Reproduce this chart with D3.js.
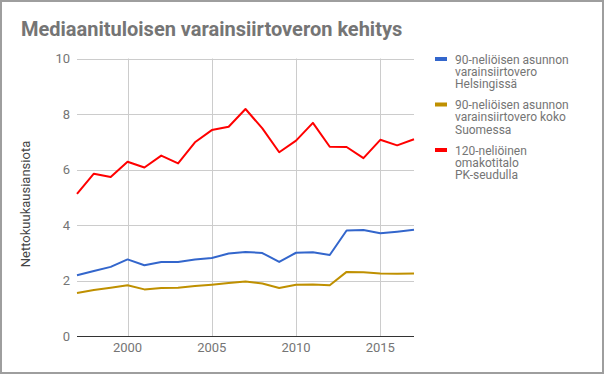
<!DOCTYPE html>
<html><head><meta charset="utf-8">
<script src="https://cdn.jsdelivr.net/npm/d3@7"></script>
<style>body{margin:0;background:#fff}svg{display:block;font-family:Roboto,Arial,sans-serif}</style>
</head><body><svg id="c" width="605" height="375"></svg>
<script>
const years = d3.range(1997, 2018);
const helsinki = [2.19,2.34,2.49,2.76,2.55,2.67,2.67,2.76,2.81,2.97,3.03,2.99,2.67,3.00,3.02,2.92,3.80,3.82,3.70,3.76,3.83];
const suomi = [1.55,1.66,1.74,1.83,1.68,1.73,1.74,1.80,1.85,1.91,1.96,1.89,1.73,1.85,1.86,1.83,2.31,2.30,2.25,2.24,2.25];
const pk = [5.12,5.85,5.73,6.28,6.07,6.50,6.22,6.98,7.42,7.54,8.18,7.48,6.62,7.04,7.68,6.82,6.81,6.41,7.07,6.87,7.09];
const seriesNames = [
  ["90-neliöisen asunnon","varainsiirtovero","Helsingissä"],
  ["90-neliöisen asunnon","varainsiirtovero koko","Suomessa"],
  ["120-neliöinen","omakotitalo","PK-seudulla"]
];
const colors = ["#3366cc","#bf9000","#ff0000"];
const yTicks = [0,2,4,6,8,10];
const xTicks = [2000,2005,2010,2015];
const title = "Mediaanituloisen varainsiirtoveron kehitys";
const yTitle = "Nettokuukausiansiota";

const svg = d3.select("#c");
svg.append("rect").attr("x",1).attr("y",1).attr("width",602).attr("height",372)
  .attr("fill","#fff").attr("stroke","#9e9e9e").attr("stroke-width",2);

const x = d3.scaleLinear().domain([1997,2017]).range([77,414]);
const y = d3.scaleLinear().domain([0,10]).range([336,58.5]);

svg.append("text").attr("x",21).attr("y",36).text(title)
  .attr("font-size",20).attr("font-weight","bold").attr("fill","#757575");

// gridlines
svg.append("g").selectAll("line").data(yTicks.filter(d=>d>0)).join("line")
  .attr("x1",77).attr("x2",414).attr("y1",d=>Math.round(y(d))+0.5).attr("y2",d=>Math.round(y(d))+0.5)
  .attr("stroke","#cccccc");
svg.append("g").selectAll("line").data(xTicks).join("line")
  .attr("x1",d=>Math.round(x(d))+0.5).attr("x2",d=>Math.round(x(d))+0.5).attr("y1",58.5).attr("y2",336)
  .attr("stroke","#cccccc");

// y labels
svg.append("g").selectAll("text").data(yTicks).join("text")
  .attr("x",70).attr("y",d=>y(d)+4.5).attr("text-anchor","end")
  .attr("font-size",13).attr("fill","#757575").text(d=>d);
// x labels
svg.append("g").selectAll("text").data(xTicks).join("text")
  .attr("x",d=>x(d)).attr("y",352).attr("text-anchor","middle")
  .attr("font-size",13).attr("fill","#757575").text(d=>d);

svg.append("text").attr("transform","translate(30,204) rotate(-90)")
  .attr("text-anchor","middle").attr("font-size",13).attr("fill","#444").text(yTitle);

// baseline
svg.append("line").attr("x1",77).attr("x2",414).attr("y1",Math.round(y(0))+0.5).attr("y2",Math.round(y(0))+0.5)
  .attr("stroke","#333");

const line = d3.line().x((d,i)=>x(years[i])).y(d=>y(d));
[helsinki,suomi,pk].forEach((s,i)=>{
  svg.append("path").datum(s).attr("d",line).attr("fill","none")
    .attr("stroke",colors[i]).attr("stroke-width",2).attr("stroke-linejoin","round");
});

// legend
const lg = svg.append("g");
seriesNames.forEach((lines,i)=>{
  const y0 = 59 + i*45.5;
  lg.append("rect").attr("x",435).attr("y",y0-2).attr("width",12).attr("height",4).attr("fill",colors[i]);
  lines.forEach((t,j)=>{
    lg.append("text").attr("x",455).attr("y",y0+4.5+j*12.3).attr("font-size",12)
      .attr("fill","#757575").text(t);
  });
});
</script></body></html>
